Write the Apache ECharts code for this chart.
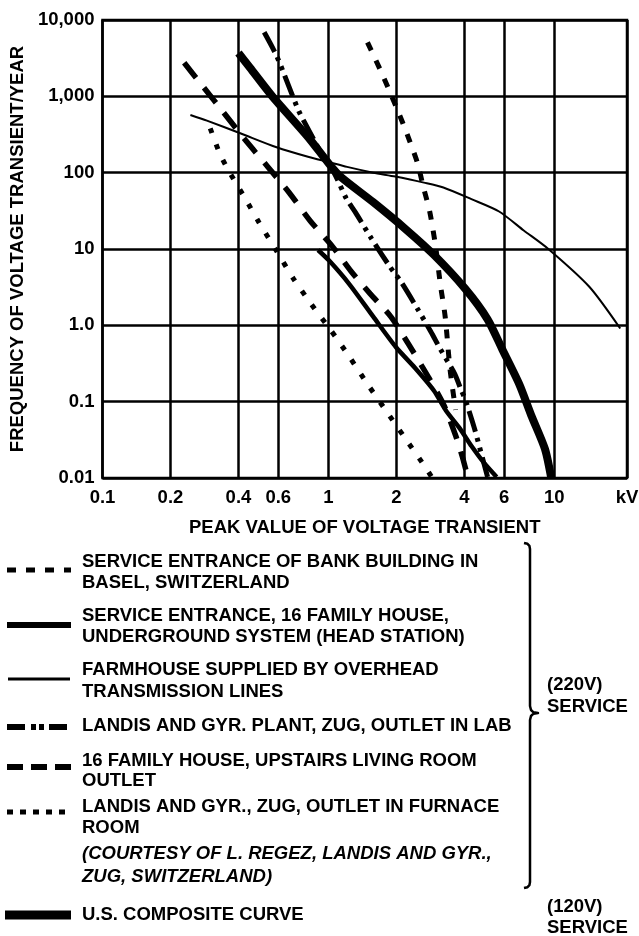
<!DOCTYPE html>
<html>
<head>
<meta charset="utf-8">
<script src="https://cdn.jsdelivr.net/npm/echarts@6/dist/echarts.min.js"></script>
<style>
html,body{margin:0;padding:0;background:#fff;}
#chart{width:639px;height:936px;}
</style>
</head>
<body>
<div id="chart"></div>
<script>
// ---- data (kV, transients/year) ----
const xTickValues = [0.1, 0.2, 0.4, 0.6, 1, 2, 4, 6, 10, 21];
const xTickLabels = ['0.1', '0.2', '0.4', '0.6', '1', '2', '4', '6', '10', 'kV'];
const yTickLabels = {'-2': '0.01', '-1': '0.1', '0': '1.0', '1': '10', '2': '100', '3': '1,000', '4': '10,000'};

const baselX = [1.49, 1.69, 1.85, 2.0, 2.14, 2.27, 2.48, 2.63, 2.81, 2.98, 3.13, 3.29, 3.46, 3.66];
const baselY = [5100, 2290, 1240, 720, 440, 280, 134, 66, 31, 11.2, 3.5, 1.3, 0.26, 0.078];

const undergroundX = [0.9, 1.01, 1.24, 1.58, 1.99, 2.41, 2.93, 3.32, 3.81, 4.31, 4.87, 5.56];
const undergroundY = [9.7, 7.0, 3.45, 1.3, 0.52, 0.28, 0.14, 0.076, 0.045, 0.026, 0.016, 0.0103];

const farmhouseX = [0.245, 0.29, 0.41, 0.59, 0.82, 1.0, 1.21, 1.58, 1.98, 2.65, 3.23, 4.3, 5.7, 7.33, 9.42, 14.3, 19.6];
const farmhouseY = [570, 480, 326, 215, 160, 138, 119, 100, 89, 74, 64, 45, 31, 17.5, 10, 3.2, 0.91];

const labX = [0.52, 0.59, 0.66, 0.74, 0.83, 0.94, 1.06, 1.2, 1.32, 1.55, 1.87, 2.1, 2.48, 2.84, 3.13, 3.63, 3.88, 4.04, 4.43, 4.87, 5.07];
const labY = [6900, 3400, 1490, 640, 335, 170, 100, 46, 30, 13.8, 5.9, 3.7, 1.65, 0.83, 0.49, 0.23, 0.14, 0.106, 0.045, 0.016, 0.0103];

const upstairsX = [0.23, 0.28, 0.34, 0.43, 0.54, 0.67, 0.83, 1.04, 1.26, 1.53, 1.89, 2.27, 2.8, 3.26, 3.66, 3.92, 4.15];
const upstairsY = [2750, 1320, 640, 265, 119, 55, 23.5, 10.9, 5.1, 2.6, 1.3, 0.56, 0.2, 0.088, 0.036, 0.019, 0.01];

const furnaceX = [0.30, 0.33, 0.36, 0.43, 0.49, 0.59, 0.70, 0.84, 1.02, 1.23, 1.49, 1.79, 2.16, 2.6, 2.87];
const furnaceY = [380, 180, 109, 45, 23, 9.4, 4.1, 1.9, 0.88, 0.4, 0.17, 0.078, 0.035, 0.016, 0.0103];

const usCompositeX = [0.40, 0.45, 0.565, 0.815, 1.0, 1.13, 1.58, 2.18, 2.93, 4.04, 5.07, 5.9, 7.0, 7.9, 9.1, 9.7];
const usCompositeY = [3700, 2370, 1000, 290, 134, 89, 41, 18.6, 8.4, 3.0, 1.2, 0.48, 0.17, 0.067, 0.024, 0.01];

// ---- helpers ----
const FONT = '"Liberation Sans", Arial, Helvetica, sans-serif';
const FS = 18.5;
function pairs(xs, ys) { return xs.map((x, i) => [x, ys[i]]); }
function curve(name, xs, ys, width, dash) {
  return {
    name: name, type: 'line', data: pairs(xs, ys), showSymbol: false, symbol: 'none',
    smooth: 0.25, z: 3, silent: true,
    lineStyle: { color: '#000', width: width, type: dash || 'solid', cap: 'butt' }
  };
}

const chart = echarts.init(document.getElementById('chart'), null, { renderer: 'canvas' });

const gridSeries = {
  name: 'grid', type: 'line', data: [[0.1, 0.01]], z: 1, silent: true, showSymbol: false, symbol: 'none',
  lineStyle: { width: 0 },
  markLine: {
    silent: true, symbol: ['none', 'none'], animation: false,
    lineStyle: { color: '#000', width: 2.5, type: 'solid' },
    label: {
      show: true, position: 'start', distance: 10, formatter: '{b}',
      color: '#000', fontFamily: FONT, fontWeight: 'bold', fontSize: FS
    },
    data: xTickValues.map((v, i) => ({ xAxis: v, name: xTickLabels[i] }))
  }
};

function legendText(x, y, t, italic) {
  return { type: 'text', x: x, y: y, silent: true,
    style: { text: t, fill: '#000', fontFamily: FONT, fontWeight: 'bold', fontStyle: italic ? 'italic' : 'normal',
             fontSize: FS, verticalAlign: 'middle', align: 'left' } };
}
function legendLine(y, w, dash, x1, x2) {
  return { type: 'line', silent: true, shape: { x1: x1 || 7, y1: y, x2: x2 || 71, y2: y },
    style: { stroke: '#000', lineWidth: w, lineDash: dash || null, lineCap: 'butt' } };
}

const TX = 82;
const graphics = [
  legendLine(570, 5, [9, 10]),
  legendText(TX, 562, 'SERVICE ENTRANCE OF BANK BUILDING IN'),
  legendText(TX, 583, 'BASEL, SWITZERLAND'),
  legendLine(625, 6),
  legendText(TX, 616, 'SERVICE ENTRANCE, 16 FAMILY HOUSE,'),
  legendText(TX, 637, 'UNDERGROUND SYSTEM (HEAD STATION)'),
  legendLine(679, 3, null, 8, 70),
  legendText(TX, 670, 'FARMHOUSE SUPPLIED BY OVERHEAD'),
  legendText(TX, 692, 'TRANSMISSION LINES'),
  legendLine(727, 6, [18, 6, 5, 3, 5, 5]),
  legendText(TX, 726, 'LANDIS AND GYR. PLANT, ZUG, OUTLET IN LAB'),
  legendLine(767, 6, [16, 8]),
  legendText(TX, 761, '16 FAMILY HOUSE, UPSTAIRS LIVING ROOM'),
  legendText(TX, 781, 'OUTLET'),
  legendLine(812, 5, [6, 7]),
  legendText(TX, 807, 'LANDIS AND GYR., ZUG, OUTLET IN FURNACE'),
  legendText(TX, 828, 'ROOM'),
  legendText(TX, 854, '(COURTESY OF L. REGEZ, LANDIS AND GYR.,', true),
  legendText(TX, 877, 'ZUG, SWITZERLAND)', true),
  legendLine(915, 9, null, 5, 71),
  legendText(TX, 915, 'U.S. COMPOSITE CURVE'),
  { type: 'polyline', silent: true,
    shape: { points: [[524, 543], [527.5, 543.8], [529.4, 545.8], [530, 549], [530, 706], [531, 710], [533.5, 712.3], [538, 713],
                      [533.5, 713.7], [531, 716], [530, 720], [530, 882], [529.4, 885.2], [527.5, 887.2], [524, 888]] },
    style: { stroke: '#000', lineWidth: 2.5, fill: null, lineJoin: 'round' } },
  legendText(547, 685, '(220V)'),
  legendText(547, 707, 'SERVICE'),
  legendText(547, 907, '(120V)'),
  legendText(547, 928, 'SERVICE')
];

chart.setOption({
  animation: false,
  backgroundColor: '#fff',
  grid: { left: 96, right: 12, top: 20, bottom: 458, show: true, borderColor: '#000', borderWidth: 2.5, containLabel: false },
  xAxis: {
    type: 'log', logBase: 10, min: 0.1, max: 21,
    name: 'PEAK VALUE OF VOLTAGE TRANSIENT', nameLocation: 'middle', nameGap: 40,
    nameTextStyle: { color: '#000', fontFamily: FONT, fontWeight: 'bold', fontSize: FS },
    axisLine: { show: false }, axisTick: { show: false }, axisLabel: { show: false }, splitLine: { show: false }
  },
  yAxis: {
    type: 'log', logBase: 10, min: 0.01, max: 10000, interval: 1,
    name: 'FREQUENCY OF VOLTAGE TRANSIENT/YEAR', nameLocation: 'middle', nameRotate: 90, nameGap: 62,
    nameTextStyle: { color: '#000', fontFamily: FONT, fontWeight: 'bold', fontSize: FS },
    axisLine: { show: false }, axisTick: { show: false },
    axisLabel: {
      color: '#000', fontFamily: FONT, fontWeight: 'bold', fontSize: FS, margin: 8,
      formatter: function (v) { return yTickLabels[String(Math.round(Math.log10(v)))] || ''; }
    },
    splitLine: { show: true, lineStyle: { color: '#000', width: 2.5 } }
  },
  series: [
    gridSeries,
    curve('SERVICE ENTRANCE OF BANK BUILDING IN BASEL, SWITZERLAND', baselX, baselY, 5, [9, 11]),
    curve('SERVICE ENTRANCE, 16 FAMILY HOUSE, UNDERGROUND SYSTEM (HEAD STATION)', undergroundX, undergroundY, 4.5),
    curve('FARMHOUSE SUPPLIED BY OVERHEAD TRANSMISSION LINES', farmhouseX, farmhouseY, 2),
    curve('LANDIS AND GYR. PLANT, ZUG, OUTLET IN LAB', labX, labY, 5, [22, 6, 4, 6, 4, 6]),
    curve('16 FAMILY HOUSE, UPSTAIRS LIVING ROOM OUTLET', upstairsX, upstairsY, 5.5, [19, 13]),
    curve('LANDIS AND GYR., ZUG, OUTLET IN FURNACE ROOM', furnaceX, furnaceY, 5, [5, 12]),
    curve('U.S. COMPOSITE CURVE', usCompositeX, usCompositeY, 8)
  ],
  graphic: graphics
});
</script>
</body>
</html>
